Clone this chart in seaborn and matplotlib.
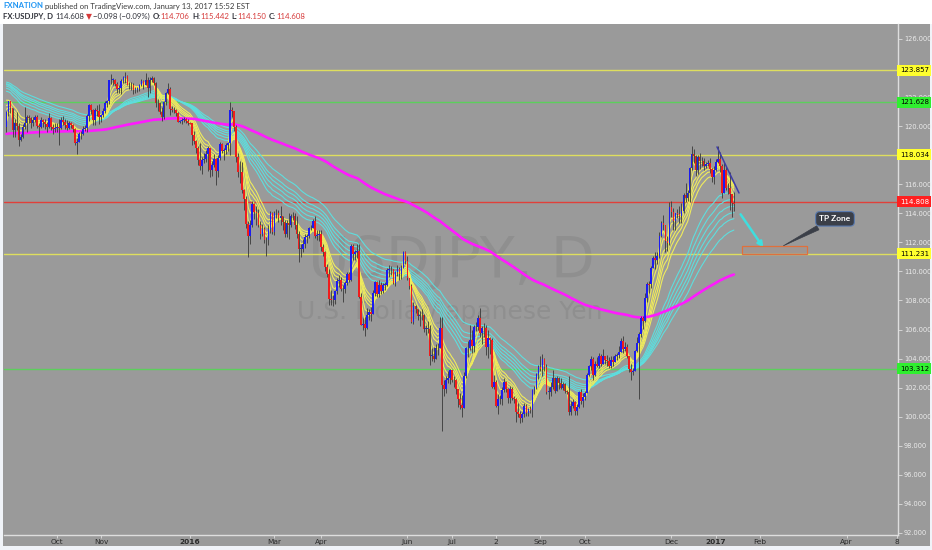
import numpy as np
import pandas as pd
import seaborn as sns
import matplotlib.pyplot as plt
from matplotlib.patches import Rectangle
from matplotlib.transforms import blended_transform_factory

# daily USDJPY bars, Thu 2015-08-27 .. Fri 2017-01-13 (one row = one week, first row Thu/Fri)
first_date = "2015-08-27"
first_open = 119.93

closes = [
	120.98, 121.74,
	121.22, 119.74, 120.20, 120.02, 119.03,
	119.27, 119.92, 120.24, 120.60, 120.57,
	120.21, 120.43, 120.60, 120.00, 119.96,
	120.40, 120.28, 120.18, 119.94, 120.57,
	119.91, 119.82, 119.87, 119.92, 119.88,
	120.41, 120.31, 120.10, 119.90, 120.21,
	120.08, 119.83, 118.86, 118.88, 119.45,
	119.45, 119.81, 119.90, 120.68, 121.44,
	121.11, 120.45, 121.08, 121.07, 120.62,
	120.76, 121.01, 121.62, 121.74, 123.16,
	123.20, 123.20, 122.89, 122.56, 122.60,
	123.14, 123.41, 123.45, 122.86, 122.80,
	122.82, 122.50, 122.50, 122.60, 122.82,
	123.11, 122.86, 123.21, 122.63, 123.18,
	123.28, 122.95, 121.56, 121.59, 120.96,
	120.64, 121.65, 122.27, 122.56, 121.18,
	121.14, 121.10, 120.90, 120.31, 120.32,
	120.40, 120.48, 120.34, 120.22, 120.20,
	119.41, 119.00, 118.52, 117.69, 117.25,
	117.69, 117.72, 118.09, 118.53, 116.96,
	117.33, 117.73, 116.93, 117.78, 118.76,
	118.30, 118.35, 118.68, 118.81, 121.13,
	121.01, 119.97, 117.91, 116.83, 116.83,
	115.60, 114.96, 113.28, 112.42, 113.23,
	114.62, 114.08, 114.05, 113.22, 112.56,
	112.95, 112.14, 112.18, 112.93, 113.99,
	112.71, 114.00, 114.00, 113.70, 113.80,
	113.40, 112.60, 113.30, 113.22, 113.80,
	113.80, 113.20, 112.60, 111.54, 111.55,
	111.91, 112.36, 112.41, 112.96, 113.02,
	113.47, 112.45, 112.52, 112.57, 111.70,
	111.31, 110.30, 109.80, 108.08, 108.05,
	108.00, 108.64, 109.32, 109.39, 108.77,
	108.80, 109.18, 109.80, 109.43, 111.78,
	111.17, 111.32, 111.40, 108.23, 106.30,
	106.37, 106.13, 107.03, 107.24, 107.10,
	108.50, 109.28, 108.45, 109.08, 108.62,
	109.07, 109.10, 110.11, 110.20, 110.14,
	109.20, 109.97, 110.16, 109.79, 110.23,
	111.37, 110.73, 109.52, 108.99, 106.54,
	107.63, 107.40, 106.90, 106.98, 106.98,
	106.04, 106.05, 106.05, 104.20, 104.20,
	104.00, 104.76, 104.75, 106.10, 102.20,
	101.90, 102.52, 102.70, 103.20, 102.52,
	102.55, 101.94, 101.25, 100.79, 100.60,
	102.80, 104.70, 104.72, 105.30, 104.85,
	106.17, 106.20, 106.80, 105.78, 106.14,
	106.10, 104.80, 105.40, 105.30, 102.05,
	102.40, 100.75, 101.24, 101.22, 101.82,
	102.41, 101.90, 101.30, 101.90, 101.30,
	101.20, 100.30, 100.20, 99.90, 100.20,
	100.75, 100.23, 100.50, 100.47, 101.85,
	101.99, 102.93, 103.43, 103.27, 104.00,
	103.43, 101.72, 101.73, 102.03, 102.66,
	101.74, 102.65, 102.33, 102.00, 102.27,
	101.77, 101.70, 100.30, 100.77, 101.01,
	100.40, 100.70, 101.67, 101.07, 101.35,
	101.66, 102.85, 103.51, 103.96, 102.90,
	103.63, 103.47, 104.18, 103.60, 104.19,
	103.89, 103.87, 103.47, 103.92, 103.80,
	104.20, 104.22, 104.46, 105.23, 104.69,
	104.82, 104.20, 103.30, 103.10, 103.12,
	104.50, 105.10, 105.70, 106.80, 106.60,
	108.14, 109.14, 109.12, 110.22, 110.90,
	110.80, 111.03, 112.45, 113.32, 113.19,
	112.10, 111.93, 114.46, 114.06, 113.50,
	113.99, 113.94, 113.80, 114.15, 115.28,
	115.05, 115.40, 117.12, 118.08, 117.95,
	116.98, 117.91, 117.57, 117.58, 117.26,
	117.38, 117.45, 117.02, 116.50, 116.96,
	117.51, 117.72, 117.24, 115.37, 116.96,
	115.77, 115.76, 115.36, 114.706, 114.608,
]

highs = [
	121.06, 121.75,
	121.63, 121.27, 120.50, 120.95, 120.22,
	119.47, 120.13, 121.35, 120.80, 120.77,
	120.60, 120.64, 120.79, 120.78, 120.20,
	120.61, 120.50, 120.46, 120.30, 120.89,
	120.64, 120.12, 120.24, 120.19, 120.46,
	120.62, 120.69, 120.51, 120.40, 120.34,
	120.28, 120.18, 119.86, 119.18, 119.62,
	119.64, 120.00, 120.07, 120.86, 121.50,
	121.49, 121.19, 121.27, 121.45, 121.49,
	120.81, 121.22, 121.76, 121.81, 123.21,
	123.60, 123.34, 123.26, 123.06, 122.82,
	123.22, 123.48, 123.76, 123.51, 123.04,
	123.05, 122.94, 122.70, 122.72, 122.93,
	123.22, 123.17, 123.68, 123.40, 123.35,
	123.47, 123.38, 123.03, 121.87, 121.64,
	121.30, 121.76, 122.32, 122.98, 122.67,
	121.40, 121.30, 121.18, 120.94, 120.40,
	120.56, 120.61, 120.54, 120.48, 120.28,
	120.20, 119.69, 119.02, 118.62, 118.82,
	117.90, 118.14, 118.39, 118.60, 118.30,
	117.62, 118.08, 117.80, 118.02, 118.89,
	118.87, 118.50, 118.86, 118.94, 121.69,
	121.35, 121.04, 120.05, 118.18, 117.62,
	117.53, 115.67, 115.18, 113.48, 113.52,
	114.87, 114.68, 114.52, 114.30, 113.44,
	113.28, 113.03, 112.40, 113.20, 114.13,
	114.06, 114.14, 114.32, 114.21, 114.48,
	113.84, 113.53, 113.56, 114.00, 113.96,
	114.08, 114.00, 113.80, 112.75, 111.88,
	112.24, 112.56, 112.59, 113.08, 113.23,
	113.58, 113.80, 112.82, 112.86, 112.88,
	111.87, 111.42, 110.50, 110.14, 108.73,
	108.40, 108.72, 109.58, 109.73, 109.59,
	109.09, 109.34, 109.95, 109.98, 111.89,
	111.88, 111.50, 111.87, 111.88, 108.51,
	106.81, 106.85, 107.49, 107.44, 107.53,
	108.72, 109.34, 109.35, 109.39, 109.26,
	109.21, 109.30, 110.27, 110.43, 110.36,
	110.20, 110.06, 110.44, 110.32, 110.43,
	111.44, 111.42, 111.04, 109.58, 109.16,
	107.88, 107.70, 107.29, 107.27, 107.39,
	107.05, 106.34, 106.58, 106.30, 104.70,
	104.80, 105.00, 105.08, 106.85, 106.84,
	102.56, 102.78, 103.18, 103.29, 103.02,
	102.82, 102.57, 101.92, 101.61, 101.53,
	103.10, 104.82, 105.19, 106.32, 106.00,
	106.31, 106.50, 107.02, 107.49, 106.22,
	106.45, 106.30, 106.00, 105.52, 105.39,
	102.88, 102.54, 101.58, 101.47, 102.03,
	102.65, 102.46, 101.95, 102.13, 102.02,
	101.46, 101.26, 100.93, 100.36, 100.32,
	100.96, 100.87, 100.58, 100.74, 101.94,
	102.14, 102.99, 103.53, 104.18, 104.31,
	104.06, 103.61, 102.07, 102.40, 103.19,
	102.72, 102.82, 102.74, 102.65, 102.37,
	102.35, 101.85, 102.79, 101.07, 101.21,
	101.05, 100.88, 101.76, 101.89, 101.64,
	101.74, 102.99, 103.56, 104.17, 104.09,
	103.83, 104.12, 104.36, 104.31, 104.64,
	104.17, 104.25, 104.12, 104.21, 104.19,
	104.34, 104.36, 104.87, 105.43, 105.53,
	105.11, 105.03, 104.15, 103.61, 103.32,
	104.60, 105.48, 105.82, 106.94, 106.94,
	108.54, 109.25, 109.35, 110.37, 111.08,
	111.36, 111.34, 112.68, 113.50, 113.90,
	113.22, 112.42, 114.80, 114.83, 114.40,
	114.00, 114.28, 114.50, 114.70, 115.38,
	116.11, 115.61, 117.20, 118.66, 118.42,
	118.00, 118.02, 118.18, 117.87, 117.78,
	117.52, 117.67, 117.83, 117.11, 117.28,
	117.76, 118.61, 118.19, 117.38, 117.51,
	117.23, 116.12, 116.87, 115.33, 115.442,
]

lows = [
	119.60, 120.70,
	120.90, 119.23, 119.27, 119.76, 118.60,
	118.97, 119.21, 119.80, 119.60, 120.25,
	119.90, 120.04, 120.26, 119.86, 119.26,
	119.85, 119.94, 119.80, 119.62, 119.90,
	119.74, 119.46, 119.62, 119.63, 118.68,
	119.80, 120.08, 119.77, 119.73, 119.80,
	119.84, 119.57, 118.67, 118.07, 118.91,
	119.11, 119.40, 119.67, 119.62, 120.38,
	120.86, 120.08, 120.07, 120.67, 120.18,
	120.28, 120.63, 120.88, 121.35, 121.55,
	122.88, 122.86, 122.77, 122.29, 122.28,
	122.23, 122.99, 123.00, 122.80, 122.55,
	122.48, 122.22, 122.26, 122.38, 122.45,
	122.73, 122.57, 122.80, 122.04, 122.29,
	123.02, 122.85, 121.33, 121.07, 120.81,
	120.37, 120.52, 121.46, 122.22, 120.80,
	120.98, 120.88, 120.72, 120.26, 120.24,
	120.18, 120.30, 120.22, 120.07, 120.15,
	118.70, 118.80, 118.17, 117.33, 116.95,
	116.70, 117.48, 117.52, 116.94, 116.50,
	116.55, 117.20, 115.98, 116.51, 117.70,
	118.16, 117.70, 118.08, 118.30, 118.00,
	120.66, 119.69, 117.53, 116.53, 116.09,
	115.42, 114.21, 113.00, 110.98, 111.86,
	113.06, 113.58, 113.23, 113.04, 112.20,
	112.44, 111.94, 111.04, 111.85, 112.64,
	112.61, 112.48, 113.65, 113.38, 113.21,
	112.82, 112.34, 112.34, 112.23, 113.03,
	113.55, 112.95, 112.30, 110.67, 110.97,
	111.34, 111.58, 111.98, 112.32, 112.87,
	113.00, 112.32, 112.15, 112.07, 111.44,
	111.03, 110.06, 109.61, 107.68, 107.66,
	107.63, 107.76, 108.44, 108.92, 108.67,
	107.89, 108.55, 109.05, 109.24, 109.34,
	110.82, 110.76, 110.95, 108.16, 106.28,
	105.98, 105.55, 106.02, 106.65, 106.57,
	107.06, 108.31, 108.25, 108.21, 108.44,
	108.50, 108.72, 108.97, 109.65, 109.75,
	109.11, 109.03, 109.72, 109.40, 109.51,
	110.22, 110.54, 109.40, 108.77, 106.47,
	106.35, 107.13, 106.69, 106.27, 106.69,
	105.86, 105.64, 105.75, 103.55, 103.86,
	103.80, 103.98, 104.27, 104.70, 99.02,
	101.45, 101.60, 102.35, 102.22, 102.38,
	102.06, 101.54, 100.65, 100.56, 99.98,
	100.61, 102.68, 104.10, 104.56, 104.38,
	104.47, 105.90, 105.98, 105.50, 104.99,
	105.49, 104.25, 104.07, 104.34, 101.97,
	101.94, 100.68, 100.22, 100.91, 100.82,
	101.73, 101.72, 100.94, 100.96, 101.18,
	100.94, 99.65, 99.99, 99.55, 99.67,
	99.96, 100.03, 100.07, 100.25, 99.99,
	101.58, 101.92, 102.61, 103.15, 102.82,
	103.14, 101.57, 101.21, 101.41, 101.92,
	101.63, 101.88, 101.93, 101.91, 101.86,
	101.63, 101.59, 100.12, 100.10, 100.60,
	100.09, 100.10, 100.63, 100.85, 100.68,
	101.17, 101.60, 102.80, 103.24, 102.52,
	102.82, 103.39, 103.36, 103.48, 103.72,
	103.64, 103.52, 103.33, 103.37, 103.51,
	103.82, 103.89, 104.01, 104.44, 104.37,
	104.54, 104.03, 103.10, 102.55, 102.88,
	103.29, 104.43, 101.19, 105.51, 106.04,
	106.51, 107.88, 108.51, 108.85, 110.21,
	110.19, 110.50, 110.93, 112.39, 112.88,
	111.36, 111.40, 111.81, 113.72, 112.88,
	112.88, 113.65, 113.31, 113.32, 114.03,
	114.77, 114.82, 114.78, 116.98, 117.44,
	116.55, 116.69, 117.08, 117.28, 116.98,
	117.09, 117.23, 116.75, 116.14, 116.04,
	116.94, 117.43, 116.86, 115.06, 115.51,
	115.61, 115.33, 114.25, 113.75, 114.150,
]

# moving-average ribbons and the values they had just before the first bar
fast_spans = [3, 5, 8, 10, 12, 15]
fast_seeds = [119.6, 120.0, 120.8, 121.2, 121.5, 121.9]
slow_spans = [30, 35, 40, 45, 50, 60]
slow_seeds = [122.5, 122.7, 122.85, 122.95, 123.0, 123.1]
long_span = 200
long_seed = 119.45

# horizontal levels drawn on the chart
level_values = [123.857, 121.628, 118.034, 114.808, 111.231, 103.312]
level_kinds = ["yellow", "green", "yellow", "red", "yellow", "green"]

tick_dates = ["2015-10-01", "2015-11-02", "2016-01-01", "2016-03-01", "2016-04-01",
	"2016-06-01", "2016-07-01", "2016-08-02", "2016-09-01", "2016-10-03",
	"2016-12-01", "2017-01-02", "2017-02-01", "2017-04-03", "2017-05-08"]
tick_labels = ["Oct", "Nov", "2016", "Mar", "Apr", "Jun", "Jul", "2", "Sep", "Oct",
	"Dec", "2017", "Feb", "Apr", "8"]
price_ticks = list(range(92, 128, 2))
hidden_price_ticks = [118, 124]   # covered by the level tags


BG = "#9a9a9a"
EDGE = "#f0f3f8"
UP = "#1c1cf0"
DOWN = "#f01c1c"
YELLOW = "#f0ec5c"
CYAN = "#5edede"
MAGENTA = "#ff1aff"
LEVEL_LINE = {"yellow": "#dede5e", "green": "#5ccf5c", "red": "#e0403a"}
LEVEL_TAG = {"yellow": ("#ffff2e", "black"), "green": ("#2fef2f", "black"), "red": ("#ff1f1f", "white")}

# pixel layout of the TradingView pane: bar 0 centre and bar pitch
X0_PX, PITCH = 6.47, 2.015


def ema(values, span, seed):
	a = 2.0 / (span + 1)
	out = []
	e = seed
	for v in values:
		e = e + a * (v - e)
		out.append(e)
	return out


def bar_at(px):
	return (px - X0_PX) / PITCH


sns.set_theme(style="dark", rc={"axes.facecolor": BG, "figure.facecolor": BG})
plt.rcParams["font.family"] = ["DejaVu Sans"]

W, H = 932, 550
fig = plt.figure(figsize=(W / 100, H / 100), dpi=100)
ax = fig.add_axes([4 / W, (H - 535) / H, (898 - 4) / W, (535 - 24) / H])

n = len(closes)
bars = np.arange(n)
c = np.array(closes)
o = np.array([first_open] + closes[:-1])
hi = np.maximum(np.array(highs), np.maximum(o, c))
lo = np.minimum(np.array(lows), np.minimum(o, c))

# ribbons
rows = []
for span, seed in zip(fast_spans, fast_seeds):
	rows.append(pd.DataFrame({"bar": bars, "value": ema(closes, span, seed), "span": span, "group": "fast"}))
for span, seed in zip(slow_spans, slow_seeds):
	rows.append(pd.DataFrame({"bar": bars, "value": ema(closes, span, seed), "span": span, "group": "slow"}))
df_ma = pd.concat(rows)

for lvl, kind in zip(level_values, level_kinds):
	ax.axhline(lvl, color=LEVEL_LINE[kind], lw=1, zorder=1)

sns.lineplot(data=df_ma[df_ma["group"] == "slow"], x="bar", y="value", hue="span",
	palette=[CYAN] * len(slow_spans), estimator=None, legend=False, linewidth=0.8, ax=ax, zorder=2)
sns.lineplot(data=df_ma[df_ma["group"] == "fast"], x="bar", y="value", hue="span",
	palette=[YELLOW] * len(fast_spans), estimator=None, legend=False, linewidth=0.8, ax=ax, zorder=2)
sns.lineplot(x=bars, y=ema(closes, long_span, long_seed), color=MAGENTA, linewidth=1.9, ax=ax, zorder=2)

# candles
up = c >= o
body = c - o
body = np.where(np.abs(body) < 0.04, np.where(up, 0.04, -0.04), body)
ax.vlines(bars, lo, hi, color="#383838", lw=0.6, zorder=3)
ax.bar(bars[up], body[up], bottom=o[up], width=0.82, color=UP, linewidth=0, zorder=4)
ax.bar(bars[~up], body[~up], bottom=o[~up], width=0.82, color=DOWN, linewidth=0, zorder=4)

# symbol watermark
ax.text(451 / W, 1 - 262 / H, "USDJPY, D", transform=fig.transFigure, ha="center", va="center",
	fontsize=41, color="#8f8f8f", zorder=0.5)
ax.text(450 / W, 1 - 312 / H, "U.S. Dollar/Japanese Yen", transform=fig.transFigure, ha="center",
	va="center", fontsize=18, color="#8f8f8f", zorder=0.5)

# drawings: trend line, arrow, target box, callout
ax.plot([bar_at(717), bar_at(739)], [118.57, 115.40], color="#3c3ca8", lw=1.1, zorder=5)
ax.annotate("", xy=(bar_at(765), 111.48), xytext=(bar_at(739), 114.09),
	arrowprops=dict(arrowstyle="-|>", color="#3fdede", lw=1.8, mutation_scale=8), zorder=5)
ax.add_patch(Rectangle((bar_at(742), 111.20), bar_at(807) - bar_at(742), 0.55, fill=True,
	fc=(0.9, 0.45, 0.25, 0.08), ec="#e0703c", lw=0.9, zorder=5))
ax.annotate("TP Zone", xy=(bar_at(781), 111.68), xytext=(bar_at(835), 113.62), ha="center", va="center",
	fontsize=6, color="white", fontweight="bold", family="Lato", zorder=6,
	bbox=dict(boxstyle="round,pad=0.45,rounding_size=0.5", fc="#3b3f48", ec="#5a7bb0", lw=0.8),
	arrowprops=dict(arrowstyle="wedge,tail_width=0.55", fc="#3b3f48", ec="#3b3f48", lw=0.5))

# axes
ax.set_xlim(bar_at(4), bar_at(898))
ax.set_ylim(91.86, 127.03)
ax.set_xlabel("")
ax.set_ylabel("")

cal = pd.bdate_range(first_date, periods=470)
tick_idx = [int(cal.searchsorted(pd.Timestamp(d))) for d in tick_dates]
ax.set_xticks(tick_idx)
ax.set_xticklabels(tick_labels)
for lab in ax.get_xticklabels():
	if lab.get_text() in ("2016", "2017"):
		lab.set_fontweight("bold")
ax.set_yticks(price_ticks)
ax.set_yticklabels(["" if p in hidden_price_ticks else "{:.3f}".format(p) for p in price_ticks])
ax.yaxis.tick_right()
ax.tick_params(axis="y", right=True, left=False, labelsize=4.8, labelcolor="#ececec",
	color="#dddddd", length=3, width=0.6, pad=1.2)
ax.tick_params(axis="x", bottom=True, labelsize=5.3, labelcolor="#2a2a2a",
	color="#dddddd", length=2, width=0.6, pad=0.8)
ax.grid(False)
for s in ["top", "left"]:
	ax.spines[s].set_visible(False)
for s in ["right", "bottom"]:
	ax.spines[s].set_color("#dedede")
	ax.spines[s].set_linewidth(1)

tr = blended_transform_factory(ax.transAxes, ax.transData)
for lvl, kind in zip(level_values, level_kinds):
	fc, tc = LEVEL_TAG[kind]
	ax.text(1.002, lvl, "{:.3f}".format(lvl), transform=tr, ha="left", va="center",
		fontsize=5, color=tc, clip_on=False, zorder=10,
		bbox=dict(boxstyle="square,pad=0.35", fc=fc, ec="none"))

# page edges: white header, thin light border right / bottom / left
fig.add_artist(Rectangle((0, 1 - 24 / H), 1, 24 / H, transform=fig.transFigure,
	fc="white", ec="none", zorder=0))
fig.add_artist(Rectangle((0, 0), 1, 4 / H, transform=fig.transFigure, fc=EDGE, ec="none", zorder=0))
fig.add_artist(Rectangle((929.5 / W, 0), 2.5 / W, 1 - 24 / H, transform=fig.transFigure,
	fc=EDGE, ec="none", zorder=0))
fig.add_artist(Rectangle((0, 0), 3 / W, 1 - 24 / H, transform=fig.transFigure,
	fc=EDGE, ec="none", zorder=0))


def chain(x, y, parts, size=5.6):
	r = fig.canvas.get_renderer()
	for s, color, weight, fam, gap in parts:
		t = fig.text(x / W, 1 - y / H, s, color=color, fontweight=weight, family=fam,
			fontsize=size, ha="left", va="center", zorder=2)
		bb = t.get_window_extent(r)
		x = bb.x1 + gap


DARK = "#30323a"
RED = "#d63a3a"
chain(3, 6, [
	("FXNATION", "#2196f3", "bold", "Lato", 2),
	("published on TradingView.com, January 13, 2017 15:52 EST", "#3c3c3c", "normal", "Lato", 0),
])
chain(3, 16.5, [
	("FX:USDJPY, D", DARK, "bold", "Lato", 2.5),
	("114.608", DARK, "normal", "Lato", 1.5),
	("▼", RED, "normal", "DejaVu Sans", 1.5),
	("−0.098 (−0.09%)", DARK, "normal", "Lato", 2.5),
	("O:", DARK, "bold", "Lato", 0),
	("114.706", RED, "normal", "Lato", 2.5),
	("H:", DARK, "bold", "Lato", 0),
	("115.442", RED, "normal", "Lato", 2.5),
	("L:", DARK, "bold", "Lato", 0),
	("114.150", RED, "normal", "Lato", 2.5),
	("C:", DARK, "bold", "Lato", 0),
	("114.608", RED, "normal", "Lato", 0),
])

fig.savefig("out.png", dpi=100, facecolor=BG)
